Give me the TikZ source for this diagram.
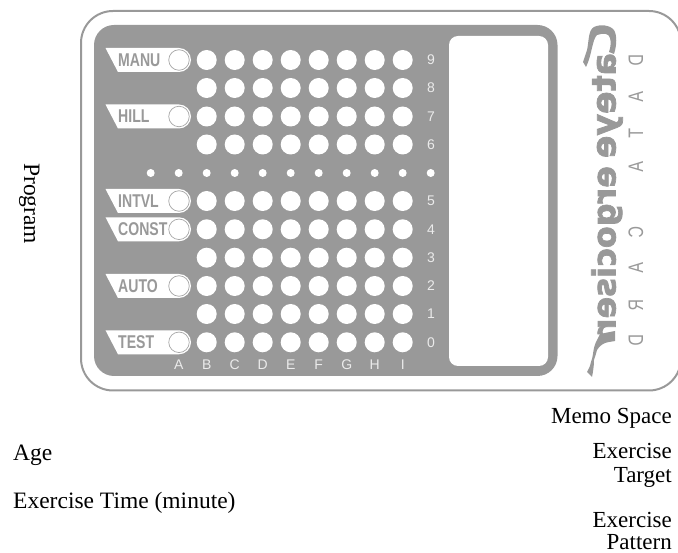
\documentclass[tikz,border=0pt]{standalone}
\usepackage{fontspec}
\setmainfont{Liberation Serif}
\setsansfont{Liberation Sans}
\newfontfamily\logofont[BoldFeatures={FakeBold=2.2}]{DejaVu Sans}
\definecolor{panelgray}{HTML}{999999}
\definecolor{marklight}{HTML}{EBEBEB}
\tikzset{
  bigdot/.style={circle,fill=white,inner sep=0pt,minimum size=20pt},
  smalldot/.style={circle,fill=white,inner sep=0pt,minimum size=8pt},
  ring/.style={circle,draw=panelgray!85,line width=.7pt,fill=white,inner sep=0pt,minimum size=20.5pt},
  progtext/.style={anchor=base west,inner sep=0pt,text=panelgray,font=\sffamily\bfseries\fontsize{18.5}{18.5}\selectfont},
  axistext/.style={inner sep=0pt,text=marklight,font=\sffamily\fontsize{14}{14}\selectfont},
  mirror/.style={cm={0,-1,-1,0,(0,0)}},
  cardtext/.style={mirror,inner sep=0pt,text=panelgray,font=\sffamily\fontsize{21}{21}\selectfont},
  logotext/.style={mirror,anchor=base west,inner sep=0pt,text=panelgray,font=\logofont\bfseries\fontsize{32}{32}\selectfont},
  caption/.style={inner sep=0pt,text=black,font=\fontsize{23.5}{23.5}\selectfont},
  captionr/.style={inner sep=0pt,text=black,font=\fontsize{23}{23}\selectfont,anchor=base east},
}
\begin{document}
\begin{tikzpicture}[x=1pt,y=-1pt]
\useasboundingbox (0,0) rectangle (678,553);
\begin{scope}
\clip (0,0) rectangle (678,553);
\draw[panelgray,line width=2pt,rounded corners=32pt] (81,11) rectangle (681,390.5);
\end{scope}
\fill[panelgray,rounded corners=20pt] (94,25) rectangle (557.5,376);
\fill[white,rounded corners=9pt] (449,36) rectangle (548,366);
% big dots
\foreach \rowy/\rn in {60/a,88/b,116.5/c,144.5/d,201/e,229.3/f,257.7/g,286/h,314/i,342.3/j}{
  \foreach \k in {0,...,7}{
    \node[bigdot] (dot\rn\k) at ({206.7+28*\k},\rowy) {};
  }
}
% small dots
\foreach \k in {0,...,10}{
  \node[smalldot] (small\k) at ({150.7+28*\k},173) {};
}
% program labels
\foreach \rowy/\lab/\nm in {60/MANU/manu,116.5/HILL/hill,201/INTVL/intvl,229.3/CONST/const,286/AUTO/auto,342.3/TEST/test}{
  \fill[white] (105.5,\rowy-12) -- (179,\rowy-12) arc[start angle=-90,end angle=90,radius=12] -- (118,\rowy+12) -- cycle;
  \node[progtext] (lab\nm) at (118,\rowy+6.5) {\scalebox{.76}[1]{\lab}};
  \node[ring] (ring\nm) at (179,\rowy) {};
}
% column letters
\foreach \k/\lab in {0/A,1/B,2/C,3/D,4/E,5/F,6/G,7/H,8/I}{
  \node[axistext] (col\lab) at ({178.7+28*\k},365) {\lab};
}
% row numbers
\foreach \rowy/\lab in {60/9,88/8,116.5/7,144.5/6,201/5,229.3/4,257.7/3,286/2,314/1,342.3/0}{
  \node[axistext] (num\lab) at (431,\rowy) {\lab};
}
% DATA CARD
\foreach \rowy/\lab/\nm in {60/D/a,97/A/b,133/T/c,167/A/d,232/C/e,268/A/f,305/R/g,340/D/h}{
  \node[cardtext] (card\nm) at (636,\rowy) {\scalebox{.76}[1]{\lab}};
}
% logo
\node[logotext] (logoa) at (615.5,53) {\resizebox{105pt}{!}{ateye}};
\node[logotext] (logob) at (615.5,166) {\resizebox{168pt}{!}{ergociser}};
\fill[panelgray] (583,62) -- (586,67) .. controls (592,55) and (592,40) .. (597,35)
  .. controls (603,33) and (609,33) .. (610,38) .. controls (611,42) and (611,46) .. (609,52)
  -- (614,54) .. controls (617,45) and (617,35) .. (614,30) .. controls (610,25) and (600,24) .. (594,27)
  .. controls (588,30) and (589,42) .. (587,50) -- cycle;
\fill[panelgray] (615,331) -- (615,341) .. controls (610,342) and (606,342) .. (603,344)
  .. controls (600,346) and (598,348) .. (597,350) .. controls (596,354) and (595,357) .. (594,360)
  .. controls (594,366) and (593,372) .. (592,377) -- (587,372) .. controls (589,369) and (590,366) .. (591,362)
  .. controls (593,357) and (593,352) .. (594,348) .. controls (595,344) and (596,342) .. (597,340)
  -- (600,334) -- cycle;
% captions
\node[caption,rotate=-90,anchor=base west] (program) at (24,163) {Program};
\node[caption,anchor=base west] (age) at (13,460.5) {Age};
\node[caption,anchor=base west] (time) at (13,508.5) {Exercise Time (minute)};
\node[captionr] (memo) at (672,423.5) {Memo Space};
\node[captionr] (target1) at (672,458.5) {Exercise};
\node[captionr] (target2) at (672,482.5) {Target};
\node[captionr] (pattern1) at (672,527) {Exercise};
\node[captionr] (pattern2) at (672,549.5) {Pattern};
\end{tikzpicture}
\end{document}
